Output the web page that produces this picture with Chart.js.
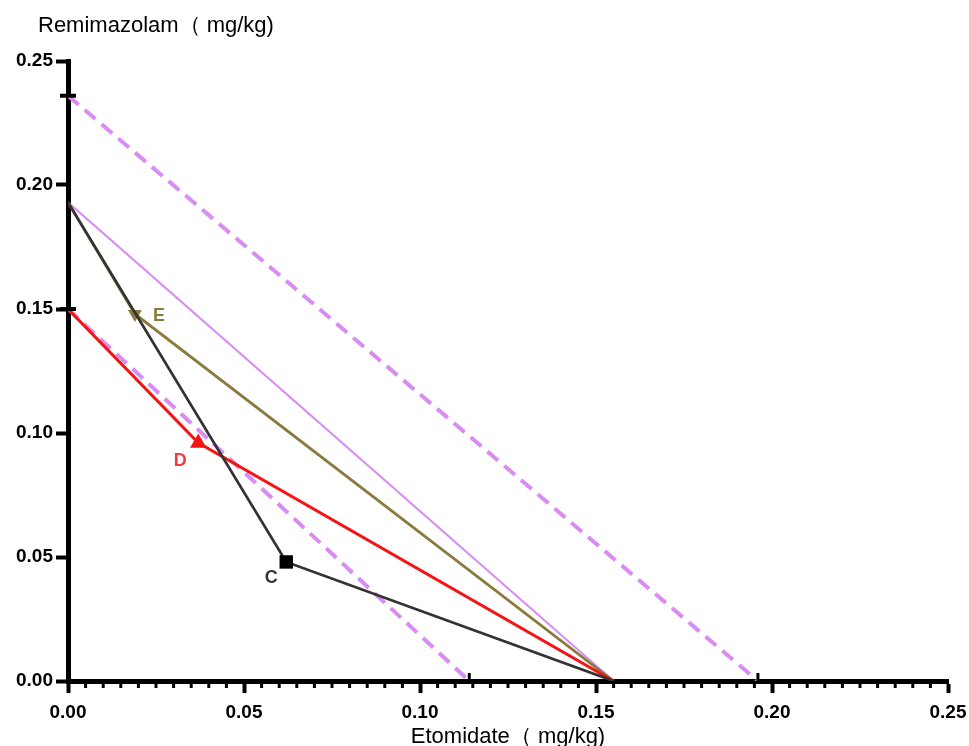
<!DOCTYPE html>
<html>
<head>
<meta charset="utf-8">
<script src="https://cdn.jsdelivr.net/npm/chart.js@4.4.1/dist/chart.umd.min.js"></script>
<style>
  body { margin: 0; background: #fff; }
  #wrap { width: 969px; height: 746px; position: relative; }
</style>
</head>
<body>
<div id="wrap"><canvas id="iso-chart"></canvas></div>
<script>
// Isobologram data (mg/kg)
const xTicks = [0, 0.05, 0.10, 0.15, 0.20, 0.25];
const yTicks = [0, 0.05, 0.10, 0.15, 0.20, 0.25];

const upperDashX = [0, 0.196];
const upperDashY = [0.236, 0];
const lowerDashX = [0, 0.114];
const lowerDashY = [0.150, 0];
const additiveX = [0, 0.155];
const additiveY = [0.193, 0];

const groupEX = [0, 0.019, 0.155];
const groupEY = [0.193, 0.148, 0];
const groupDX = [0, 0.037, 0.155];
const groupDY = [0.150, 0.096, 0];
const groupCX = [0, 0.062, 0.155];
const groupCY = [0.193, 0.048, 0];

const yCapValues = [0.236, 0.150];   // caps on the y axis (x = 0)
const xCapValues = [0.114, 0.196];   // caps on the x axis (y = 0)

const colors = {
  purple: '#d98cf2',
  olive: '#8a7a3c',
  red: '#f51414',
  dark: '#333333',
  black: '#000000',
};

const fontFamily = 'Arial, "Liberation Sans", Helvetica, sans-serif';

function toPoints(xs, ys) {
  return xs.map((x, i) => ({ x: x, y: ys[i] }));
}

function markerRadius(size) {
  return ctx => (ctx.dataIndex === 1 ? size : 0);
}

// draws axis titles, minor ticks and point labels
const extrasPlugin = {
  id: 'extras',
  afterDraw(chart) {
    const { ctx, chartArea, scales } = chart;
    ctx.save();

    // minor x ticks every 0.005
    ctx.strokeStyle = colors.black;
    ctx.lineWidth = 3;
    for (let i = 1; i < 50; i++) {
      if (i % 10 === 0) continue;
      const px = scales.x.getPixelForValue(i * 0.005);
      ctx.beginPath();
      ctx.moveTo(px, chartArea.bottom);
      ctx.lineTo(px, chartArea.bottom + 7);
      ctx.stroke();
    }

    // axis titles
    ctx.fillStyle = colors.black;
    ctx.font = '22px ' + fontFamily;
    ctx.textAlign = 'left';
    ctx.textBaseline = 'alphabetic';
    ctx.fillText('Remimazolam（ mg/kg)', chartArea.left - 30, 32);
    ctx.textAlign = 'center';
    ctx.fillText('Etomidate（ mg/kg)', (chartArea.left + chartArea.right) / 2, 743);

    // group labels
    const labels = [
      { ds: 3, text: 'E', color: colors.olive, dx: 24, dy: 2 },
      { ds: 4, text: 'D', color: '#f03c3c', dx: -18, dy: 18 },
      { ds: 5, text: 'C', color: colors.dark, dx: -15, dy: 16 },
    ];
    ctx.font = 'bold 18px ' + fontFamily;
    ctx.textBaseline = 'middle';
    labels.forEach(l => {
      const pt = chart.getDatasetMeta(l.ds).data[1];
      ctx.fillStyle = l.color;
      ctx.fillText(l.text, pt.x + l.dx, pt.y + l.dy);
    });
    ctx.restore();
  }
};

const chartCtx = document.getElementById('iso-chart');

new Chart(chartCtx, {
  type: 'scatter',
  data: {
    datasets: [
      {
        data: toPoints(upperDashX, upperDashY),
        showLine: true,
        borderColor: colors.purple,
        borderWidth: 4,
        borderDash: [14, 8],
        pointRadius: 0,
        order: 6,
      },
      {
        data: toPoints(lowerDashX, lowerDashY),
        showLine: true,
        borderColor: colors.purple,
        borderWidth: 4,
        borderDash: [14, 8],
        pointRadius: 0,
        order: 6,
      },
      {
        data: toPoints(additiveX, additiveY),
        showLine: true,
        borderColor: colors.purple,
        borderWidth: 2,
        pointRadius: 0,
        order: 5,
      },
      {
        data: toPoints(groupEX, groupEY),
        showLine: true,
        borderColor: colors.olive,
        backgroundColor: colors.olive,
        borderWidth: 2.8,
        pointStyle: 'triangle',
        rotation: 180,
        pointRadius: markerRadius(8),
        pointBorderWidth: 0,
        order: 3,
      },
      {
        data: toPoints(groupDX, groupDY),
        showLine: true,
        borderColor: colors.red,
        backgroundColor: colors.red,
        borderWidth: 3,
        pointStyle: 'triangle',
        pointRadius: markerRadius(9.5),
        pointBorderWidth: 0,
        order: 2,
      },
      {
        data: toPoints(groupCX, groupCY),
        showLine: true,
        borderColor: colors.dark,
        backgroundColor: colors.black,
        borderWidth: 2.8,
        pointStyle: 'rect',
        pointRadius: markerRadius(9.5),
        pointBorderWidth: 0,
        order: 1,
      },
      {
        data: yCapValues.map(v => ({ x: 0, y: v })),
        showLine: false,
        pointStyle: 'line',
        pointRadius: 8,
        pointBorderWidth: 4,
        borderColor: colors.black,
        clip: false,
        order: 0,
      },
      {
        data: xCapValues.map(v => ({ x: v, y: 0 })),
        showLine: false,
        pointStyle: 'line',
        rotation: 90,
        pointRadius: 8,
        pointBorderWidth: 3,
        borderColor: colors.black,
        clip: { left: false, right: false, top: false, bottom: 0 },
        order: 0,
      },
    ]
  },
  options: {
    responsive: true,
    maintainAspectRatio: false,
    animation: false,
    layout: {
      autoPadding: false,
      padding: { top: 61, right: 21, left: 0, bottom: 0 }
    },
    plugins: {
      legend: { display: false },
      tooltip: { enabled: false },
    },
    scales: {
      x: {
        type: 'linear',
        min: 0,
        max: 0.25,
        afterFit: s => {
          s.height = 65;
          s.paddingLeft = 0;
          s.paddingRight = 0;
        },
        afterBuildTicks: s => { s.ticks = xTicks.map(v => ({ value: v })); },
        border: { display: true, width: 5, color: colors.black },
        grid: {
          drawOnChartArea: false,
          drawTicks: true,
          tickLength: 12,
          tickWidth: 4,
          tickColor: colors.black,
        },
        ticks: {
          padding: 8,
          color: colors.black,
          font: { family: fontFamily, size: 19, weight: 'bold' },
          callback: v => v.toFixed(2),
        }
      },
      y: {
        type: 'linear',
        min: 0,
        max: 0.25,
        afterFit: s => {
          s.width = 68;
          s.paddingTop = 0;
          s.paddingBottom = 0;
        },
        afterBuildTicks: s => { s.ticks = yTicks.map(v => ({ value: v })); },
        border: { display: true, width: 5, color: colors.black },
        grid: {
          drawOnChartArea: false,
          drawTicks: true,
          tickLength: 12,
          tickWidth: 4,
          tickColor: colors.black,
        },
        ticks: {
          padding: 3,
          color: colors.black,
          font: { family: fontFamily, size: 19, weight: 'bold' },
          callback: v => v.toFixed(2),
        }
      }
    }
  },
  plugins: [extrasPlugin]
});
</script>
</body>
</html>
